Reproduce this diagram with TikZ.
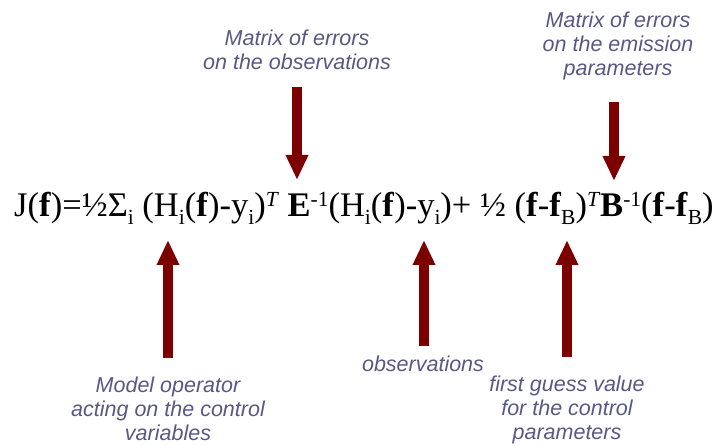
\documentclass[tikz,border=0pt]{standalone}
\usepackage{fontspec}
\usepackage{xcolor}
\usepackage{tikz}
\usetikzlibrary{arrows.meta}

\newfontfamily\notefont{Liberation Sans}
\newfontfamily\eqfont{Liberation Serif}
\definecolor{notegray}{RGB}{88,88,135}
\definecolor{arrowred}{RGB}{125,0,0}
\newcommand\lowidx[1]{\raisebox{-8pt}{\fontsize{21.5}{21.5}\selectfont #1}}
\newcommand\highidx[1]{\raisebox{10.5pt}{\fontsize{21.5}{21.5}\selectfont #1}}

\begin{document}
\begin{tikzpicture}[
  x=1pt,y=-1pt,
  note/.style={font=\notefont\itshape\fontsize{21.5}{24}\selectfont,text=notegray,align=center,inner sep=0pt},
  eqn/.style={font=\eqfont\fontsize{34.5}{38}\selectfont,inner sep=0pt},
  big_arrow/.style={draw=arrowred,line width=10.5pt,-{Triangle[width=21pt,length=25pt]}}
]
\useasboundingbox (0,0) rectangle (720,446);

% Cost function
\node[eqn,anchor=base west] (cost) at (14,217)
  {J(\textbf{f})=½Σ\lowidx{i} (H\lowidx{i}(\textbf{f})-y\lowidx{i})\highidx{\textit{T}} \textbf{E}\highidx{-1}(H\lowidx{i}(\textbf{f})-y\lowidx{i})+ ½ (\textbf{f}-\textbf{f}\lowidx{B})\highidx{\textit{T}}\textbf{B}\highidx{-1}(\textbf{f}-\textbf{f}\lowidx{B})};

% Labels
\node[note] (err_obs) at (297,50) {Matrix of errors\\on the observations};
\node[note] (err_emis) at (618,46) {Matrix of errors\\on the emission\\parameters};
\node[note] (model_op) at (168,409) {Model operator\\acting on the control\\variables};
\node[note] (obs) at (423,364) {observations};
\node[note] (first_guess) at (567,410) {first guess value\\for the control\\parameters};

% Arrow ends
\coordinate (err_obs_start) at (297,87);
\coordinate (err_obs_tip) at (297,180);
\coordinate (err_emis_start) at (614,102);
\coordinate (err_emis_tip) at (614,181);
\coordinate (model_op_start) at (168,358);
\coordinate (model_op_tip) at (168,240);
\coordinate (obs_start) at (424,346);
\coordinate (obs_tip) at (424,240);
\coordinate (first_guess_start) at (567,357);
\coordinate (first_guess_tip) at (567,240);

% Arrows
\draw[big_arrow] (err_obs_start) -- (err_obs_tip);
\draw[big_arrow] (err_emis_start) -- (err_emis_tip);
\draw[big_arrow] (model_op_start) -- (model_op_tip);
\draw[big_arrow] (obs_start) -- (obs_tip);
\draw[big_arrow] (first_guess_start) -- (first_guess_tip);
\end{tikzpicture}
\end{document}
